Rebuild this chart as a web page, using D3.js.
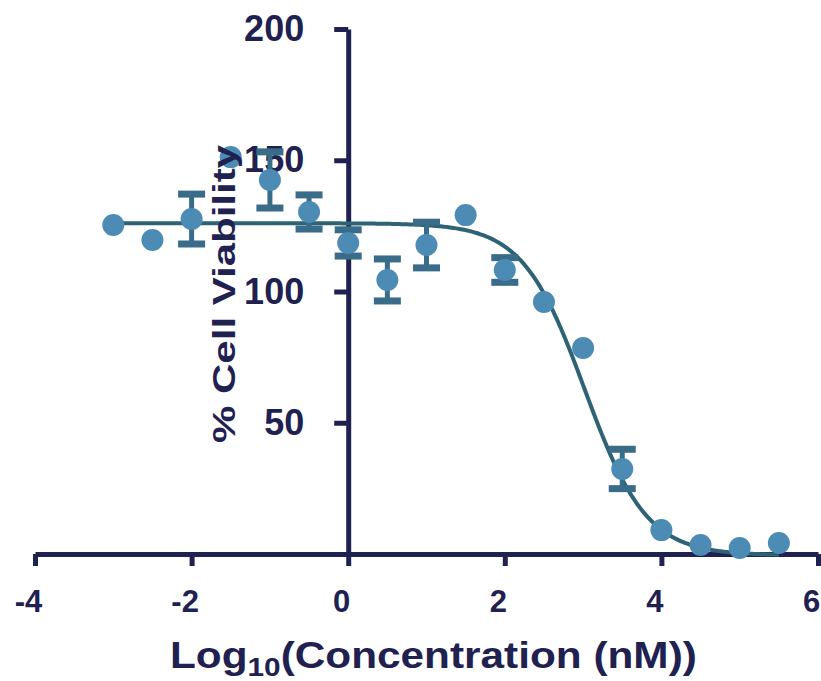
<!DOCTYPE html>
<html>
<head>
<meta charset="utf-8">
<script src="https://cdn.jsdelivr.net/npm/d3@7"></script>
<style>
  html, body { margin: 0; padding: 0; background: #ffffff; }
  svg { display: block; }
  text { font-family: "Liberation Sans", Arial, Helvetica, sans-serif; font-weight: bold; }
</style>
</head>
<body>
<svg id="chart" width="821" height="681"></svg>
<script>
// Dose-response data: log10 concentration (nM), mean % viability, SEM
const logConc = [-3, -2.5, -2, -1.5, -1, -0.5, 0, 0.5, 1, 1.5, 2, 2.5, 3, 3.5, 4, 4.5, 5, 5.5];
const viability = [125.3, 119.6, 127.6, 151.2, 142.5, 130.3, 118.5, 104.4, 117.7, 129.1, 108.2, 96, 78.5, 32.4, 9.1, 3.4, 2.3, 4.2];
const sem = [0, 0, 9.5, 0, 10.7, 6.5, 5, 8, 8.7, 0, 4.7, 0, 0, 7.5, 0, 0, 0, 0];

// Axis ticks
const xTicks = [-4, -2, 0, 2, 4, 6];
const yTicks = [50, 100, 150, 200];

// Four-parameter logistic fit (log(inhibitor) vs response)
const fitTop = 126;
const fitBottom = -0.5;
const fitLogIC50 = 3.02;
const fitHill = 1.1;

const navy = "#1f2150";
const pointFill = "#4b8bb4";
const barColor = "#396c88";
const curveColor = "#2d6374";

const svg = d3.select("#chart");

const x = d3.scaleLinear().domain([-4, 6]).range([35, 818]);
const y = d3.scaleLinear().domain([0, 200]).range([554, 29]);

const logistic = v => fitBottom + (fitTop - fitBottom) / (1 + Math.pow(10, (v - fitLogIC50) * fitHill));

// Axes
const xAxis = svg.append("g")
  .attr("transform", `translate(0,${y(0)})`)
  .call(d3.axisBottom(x).tickValues(xTicks).tickFormat(d3.format("d")).tickSize(12).tickPadding(24).tickSizeOuter(0));
xAxis.select(".domain").attr("stroke", navy).attr("stroke-width", 5);
xAxis.selectAll(".tick line").attr("stroke", navy).attr("stroke-width", 5);
xAxis.selectAll(".tick text")
  .attr("fill", navy).attr("font-size", 31).attr("dx", -7)
  .text(d => d < 0 ? "-" + Math.abs(d) : d);

const yAxis = svg.append("g")
  .attr("transform", `translate(${x(0)},0)`)
  .call(d3.axisLeft(y).tickValues(yTicks).tickSize(14).tickPadding(30).tickSizeOuter(0));
yAxis.select(".domain").attr("stroke", navy).attr("stroke-width", 5);
yAxis.selectAll(".tick line").attr("stroke", navy).attr("stroke-width", 5);
yAxis.selectAll(".tick text").attr("fill", navy).attr("font-size", 36);

// Fitted curve
const curvePts = d3.range(-3, 5.5001, 0.02).map(v => [v, logistic(v)]);
svg.append("path")
  .datum(curvePts)
  .attr("fill", "none")
  .attr("stroke", curveColor)
  .attr("stroke-width", 4)
  .attr("d", d3.line().x(d => x(d[0])).y(d => y(d[1])));

// Error bars
const rows = logConc.map((v, i) => ({ x: v, y: viability[i], e: sem[i] })).filter(d => d.e > 0);
const eb = svg.append("g").attr("fill", barColor).attr("stroke", "none");
rows.forEach(d => {
  const cx = x(d.x), top = y(d.y + d.e), bot = y(d.y - d.e);
  eb.append("rect").attr("x", cx - 2.5).attr("y", top).attr("width", 5).attr("height", bot - top);
  eb.append("rect").attr("x", cx - 13.5).attr("y", top - 3.5).attr("width", 27).attr("height", 7);
  eb.append("rect").attr("x", cx - 13.5).attr("y", bot - 3.5).attr("width", 27).attr("height", 7);
});

// Data points
svg.append("g").selectAll("circle")
  .data(logConc.map((v, i) => ({ x: v, y: viability[i] })))
  .join("circle")
  .attr("cx", d => x(d.x))
  .attr("cy", d => y(d.y))
  .attr("r", 11)
  .attr("fill", pointFill);

// Axis titles
function fitWidth(sel, width) {
  const w = sel.node().getComputedTextLength();
  return width / w;
}

const xTitle = svg.append("text")
  .attr("fill", navy)
  .attr("font-size", 37);
xTitle.append("tspan").text("Log");
xTitle.append("tspan").attr("font-size", 26).attr("dy", 8).text("10");
xTitle.append("tspan").attr("dy", -8).text("(Concentration (nM))");
const xs = fitWidth(xTitle, 527);
xTitle.attr("transform", `translate(170,668) scale(${xs},1)`);

const yTitle = svg.append("text")
  .attr("fill", navy)
  .attr("font-size", 31)
  .attr("text-anchor", "middle")
  .text("% Cell Viability");
const ys = fitWidth(yTitle, 298);
yTitle.attr("transform", `translate(235,294) rotate(-90) scale(${ys},1)`);
</script>
</body>
</html>
